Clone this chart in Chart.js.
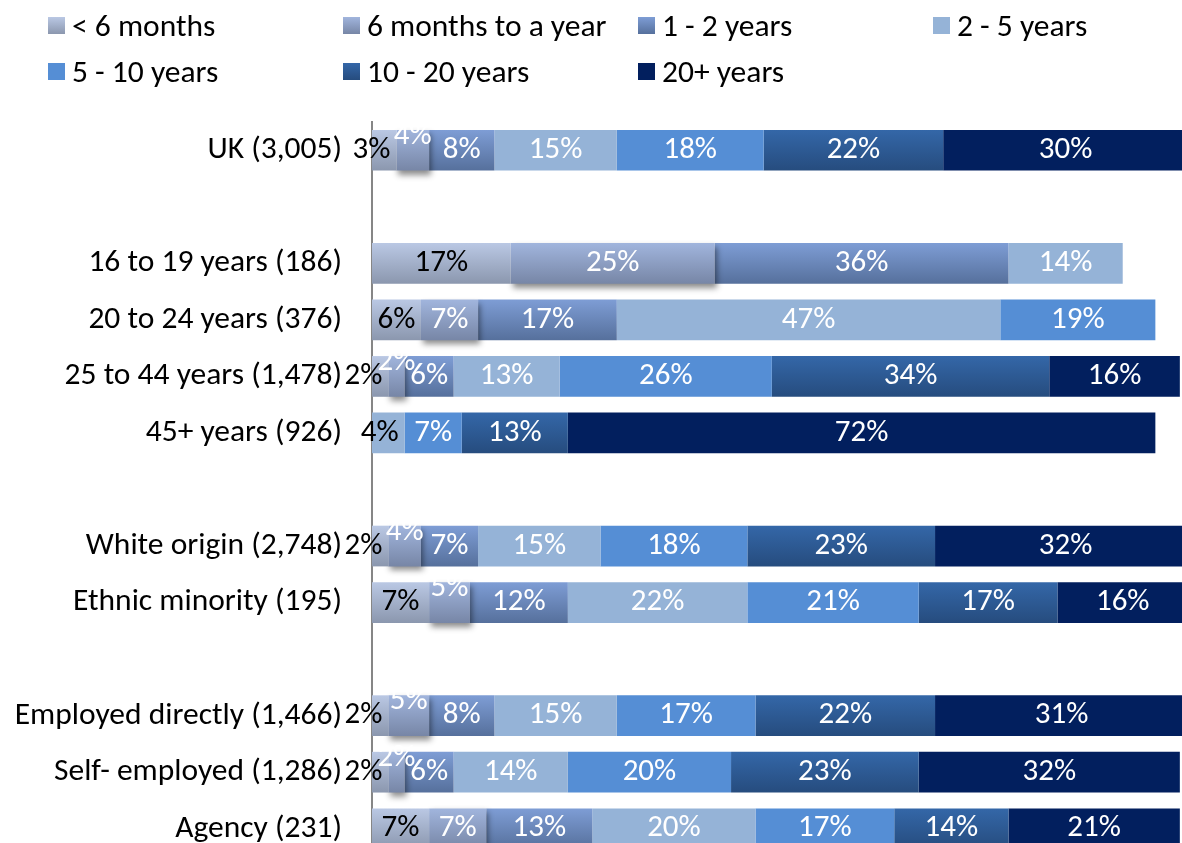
<!DOCTYPE html>
<html>
<head>
<meta charset="utf-8">
<script src="https://cdn.jsdelivr.net/npm/chart.js@4.4.1/dist/chart.umd.min.js"></script>
<style>
  html, body { margin: 0; padding: 0; background: #fff; overflow: hidden; }
  #wrap { position: relative; width: 1190px; height: 857px; }
  #chart { display: block; }
  #legend {
    position: absolute; left: 48px; top: 2px;
    display: grid; grid-template-columns: repeat(4, 295px); grid-auto-rows: 46px;
    font-family: Carlito, Lato, sans-serif; font-size: 31.5px; color: #000;
  }
  #legend .item { display: flex; align-items: center; white-space: nowrap; }
  #legend .box { width: 17px; height: 17px; margin-right: 7px; flex: none; }
</style>
</head>
<body>
<div id="wrap">
  <div id="legend"></div>
  <canvas id="chart" width="1190" height="857"></canvas>
</div>
<script>
// categories (blank entries are the gaps between groups)
var categories = ['UK (3,005)', '', '16 to 19 years (186)', '20 to 24 years (376)', '25 to 44 years (1,478)',
  '45+ years (926)', '', 'White origin (2,748)', 'Ethnic minority (195)', '',
  'Employed directly (1,466)', 'Self- employed (1,286)', 'Agency (231)'];

var seriesNames = ['< 6 months', '6 months to a year', '1 - 2 years', '2 - 5 years',
  '5 - 10 years', '10 - 20 years', '20+ years'];

var lessThan6m   = [3, null, 17, 6, 2, 0, null, 2, 7, null, 2, 2, 7];
var sixMonthsTo1 = [4, null, 25, 7, 2, 0, null, 4, 5, null, 5, 2, 7];
var oneToTwo     = [8, null, 36, 17, 6, 0, null, 7, 12, null, 8, 6, 13];
var twoToFive    = [15, null, 14, 47, 13, 4, null, 15, 22, null, 15, 14, 20];
var fiveToTen    = [18, null, 0, 19, 26, 7, null, 18, 21, null, 17, 20, 17];
var tenToTwenty  = [22, null, 0, 0, 34, 13, null, 23, 17, null, 22, 23, 14];
var twentyPlus   = [30, null, 0, 0, 16, 72, null, 32, 16, null, 31, 32, 21];

// [top, bottom] of each fill
var colours = [
  ['#bac8e4', '#8b97ae'],
  ['#a1b5dd', '#7786a6'],
  ['#7e9dd5', '#56709c'],
  ['#95b3d7', '#95b3d7'],
  ['#558ed5', '#558ed5'],
  ['#3467a8', '#264c7e'],
  ['#021f5e', '#021f5e']
];

var FONT = 'Carlito, Lato, sans-serif';
var BAR_PCT = 0.72;

function fill(i) {
  return function (c) {
    var top = colours[i][0], bottom = colours[i][1];
    if (top === bottom || c.dataIndex === undefined) return top;
    var y = c.chart.scales.y;
    if (!y) return top;
    var mid = y.getPixelForValue(c.dataIndex);
    var half = (y.getPixelForValue(1) - y.getPixelForValue(0)) * BAR_PCT / 2;
    if (!isFinite(mid) || !isFinite(half)) return top;
    var g = c.chart.ctx.createLinearGradient(0, mid - half, 0, mid + half);
    g.addColorStop(0, top);
    g.addColorStop(1, bottom);
    return g;
  };
}

var allSeries = [lessThan6m, sixMonthsTo1, oneToTwo, twoToFive, fiveToTen, tenToTwenty, twentyPlus];

var datasets = allSeries.map(function (d, i) {
  return {
    label: seriesNames[i],
    data: d,
    backgroundColor: fill(i),
    borderWidth: 0,
    barPercentage: BAR_PCT,
    categoryPercentage: 1
  };
});

// drop shadow under the "6 months to a year" pieces, as in the original
var shadow = {
  id: 'shadow',
  beforeDatasetDraw: function (chart, args) {
    if (args.index !== 1) return;
    var ctx = chart.ctx;
    ctx.save();
    ctx.shadowColor = 'rgba(0,0,0,0.45)';
    ctx.shadowBlur = 6;
    ctx.shadowOffsetX = 2;
    ctx.shadowOffsetY = 4;
  },
  afterDatasetDraw: function (chart, args) {
    if (args.index === 1) chart.ctx.restore();
  }
};

var valueLabels = {
  id: 'valueLabels',
  afterDatasetsDraw: function (chart) {
    var ctx = chart.ctx;
    var seen = {};
    ctx.save();
    ctx.font = '31px ' + FONT;
    ctx.textBaseline = 'middle';
    chart.data.datasets.forEach(function (ds, di) {
      chart.getDatasetMeta(di).data.forEach(function (bar, i) {
        var v = ds.data[i];
        if (!v) return;
        var first = !seen[i];
        seen[i] = true;
        var p = bar.getProps(['x', 'y', 'base'], true);
        var w = p.x - p.base;
        var txt = v + '%';
        var crowded = w < ctx.measureText(txt).width + 8;
        ctx.fillStyle = first ? '#000' : '#fff';
        if (crowded && first) {
          ctx.textAlign = 'right';
          ctx.fillText(txt, p.x - 6, p.y);
        } else {
          ctx.textAlign = 'center';
          ctx.fillText(txt, (p.x + p.base) / 2, crowded ? p.y - 14 : p.y);
        }
      });
    });
    ctx.restore();
  }
};

var chart = new Chart(document.getElementById('chart'), {
  type: 'bar',
  data: { labels: categories, datasets: datasets },
  options: {
    indexAxis: 'y',
    responsive: false,
    animation: false,
    layout: { padding: { top: 122, right: 2, bottom: 0, left: 0 } },
    plugins: { legend: { display: false }, tooltip: { enabled: false } },
    scales: {
      x: { stacked: true, min: 0, max: 100, display: false },
      y: {
        stacked: true,
        grid: { display: false, drawTicks: false },
        border: { display: true, color: '#868686', width: 2 },
        afterFit: function (s) {
          s.width = 372;
          s.paddingTop = 0;
          s.paddingBottom = 0;
        },
        ticks: {
          padding: 30,
          color: '#000',
          font: { family: FONT, size: 31.5 }
        }
      }
    }
  },
  plugins: [shadow, valueLabels]
});

// legend built from the chart's datasets
var legend = document.getElementById('legend');
chart.data.datasets.forEach(function (ds, i) {
  var item = document.createElement('div');
  item.className = 'item';
  var box = document.createElement('span');
  box.className = 'box';
  box.style.background = 'linear-gradient(' + colours[i][0] + ',' + colours[i][1] + ')';
  item.appendChild(box);
  item.appendChild(document.createTextNode(ds.label));
  legend.appendChild(item);
});
</script>
</body>
</html>
